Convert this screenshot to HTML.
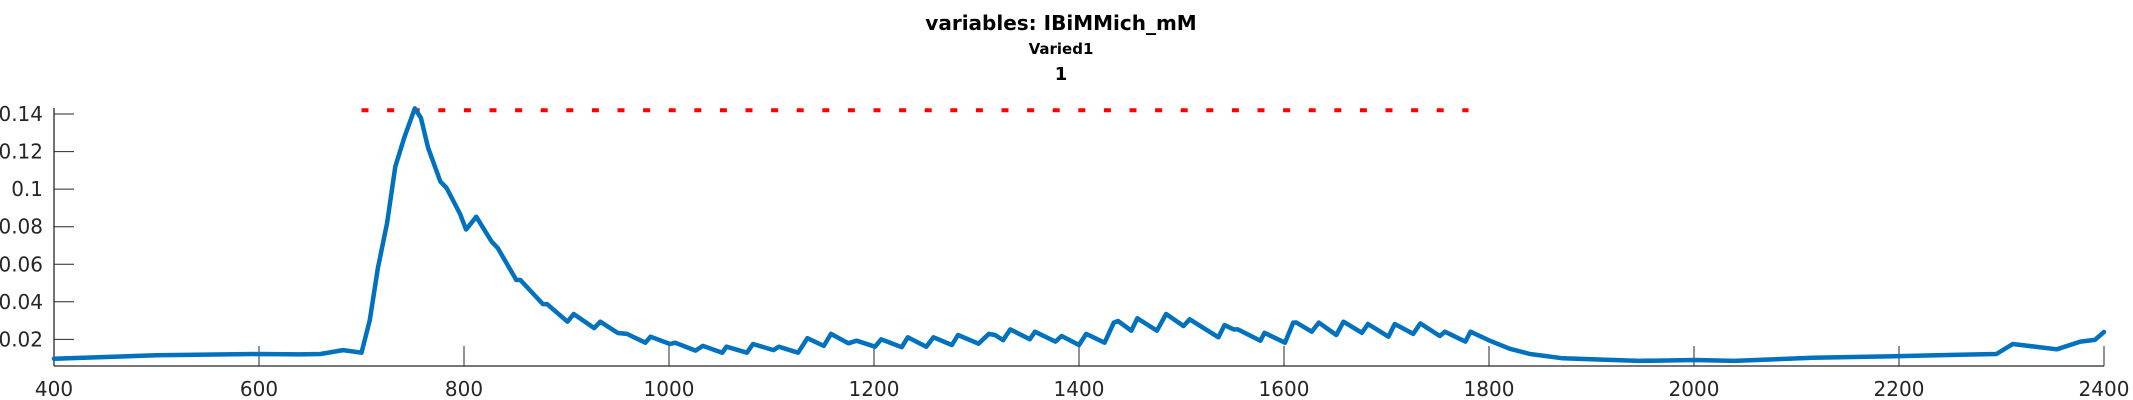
<!DOCTYPE html>
<html><head><meta charset="utf-8"><style>
html,body{margin:0;padding:0;background:#fff;}
svg{display:block;}
</style></head><body>
<svg id="chart" width="2133" height="400" viewBox="0 0 2133 400" xmlns="http://www.w3.org/2000/svg" font-family="'DejaVu Sans','Liberation Sans',sans-serif">
<text x="1061" y="30" text-anchor="middle" font-size="20" font-weight="bold" fill="#000">variables: IBiMMich_mM</text>
<text x="1061" y="54" text-anchor="middle" font-size="15" font-weight="bold" fill="#000">Varied1</text>
<text x="1061" y="80" text-anchor="middle" font-size="18" font-weight="bold" fill="#000">1</text>
<g id="axes"></g>
<g id="marks"></g>
</svg>
<script>
const xTicks = [400,600,800,1000,1200,1400,1600,1800,2000,2200,2400];
const yTicks = [0.02,0.04,0.06,0.08,0.1,0.12,0.14];
const yTickLabels = ["0.02","0.04","0.06","0.08","0.1","0.12","0.14"];
const seriesX = [400,500,600,640,660,682,700,708,716,725,733,742,752,758,765,777,783,796,802,812,818,827,833,851,855,877,881,901,907,927,933,950,959,977,982,1001,1006,1026,1033,1052,1056,1076,1082,1102,1107,1126,1135,1151,1158,1175,1183,1201,1207,1227,1233,1251,1258,1276,1282,1302,1312,1318,1326,1333,1352,1357,1377,1383,1400,1407,1425,1434,1438,1451,1457,1476,1485,1502,1508,1536,1542,1551,1555,1577,1581,1601,1609,1612,1627,1634,1651,1658,1676,1682,1702,1708,1726,1733,1752,1757,1777,1782,1799,1820,1840,1872,1946,2001,2039,2116,2202,2259,2295,2311,2354,2377,2391,2400];
const seriesY = [0.0097,0.0115,0.0122,0.0120,0.0122,0.0143,0.0129,0.030,0.058,0.082,0.112,0.128,0.143,0.138,0.122,0.104,0.1006,0.087,0.0785,0.0853,0.080,0.072,0.0686,0.0516,0.0516,0.0388,0.0388,0.0294,0.0335,0.026,0.0294,0.0234,0.0229,0.0182,0.0214,0.0175,0.0182,0.014,0.0165,0.0129,0.0161,0.0129,0.0175,0.0143,0.0161,0.0129,0.0206,0.0165,0.0229,0.0179,0.0193,0.0161,0.02,0.0158,0.0211,0.0161,0.0211,0.017,0.0223,0.0177,0.0229,0.0223,0.0196,0.0253,0.02,0.0241,0.0188,0.0218,0.017,0.0229,0.0182,0.0289,0.0298,0.0246,0.0312,0.0246,0.0335,0.0271,0.0307,0.0211,0.0276,0.0253,0.0253,0.0193,0.0235,0.0182,0.0289,0.029,0.0241,0.0289,0.0223,0.0294,0.0235,0.0282,0.0214,0.0282,0.0229,0.0285,0.0218,0.0241,0.0188,0.0241,0.0197,0.015,0.0122,0.0099,0.0085,0.009,0.0085,0.0102,0.0111,0.0118,0.0122,0.0175,0.0147,0.0188,0.0197,0.0239];
const refLevel = [0.142];
const refStart = [700];
const refEnd = [1780];

const NS = "http://www.w3.org/2000/svg";
const X0 = 54, X1 = 2104, XMIN = 400, XMAX = 2400;
const YB = 376.9, YS = 1877.5;
function xs(v){ return X0 + (v - XMIN) * (X1 - X0) / (XMAX - XMIN); }
function ys(v){ return YB - v * YS; }
function mk(tag, attrs, parent){ const e = document.createElementNS(NS, tag); for (const k in attrs) e.setAttribute(k, attrs[k]); parent.appendChild(e); return e; }

const axes = document.getElementById('axes');
const marks = document.getElementById('marks');
const AX_Y = 366, AX_TOP = 108;
const xl = mk('line', {x1:X0, y1:AX_Y, x2:X1, y2:AX_Y, stroke:'#262626', 'stroke-width':1.3}, axes);


const yl = mk('line', {x1:X0, y1:AX_Y, x2:X0, y2:AX_TOP, stroke:'#262626', 'stroke-width':1.3}, axes);



xTicks.forEach(function(t){
  const x = xs(t);
  const tk = mk('line', {x1:x, y1:AX_Y, x2:x, y2:AX_Y-20, stroke:'#262626', 'stroke-width':1}, axes);
  
  
  const lb = mk('text', {x:x, y:396, 'text-anchor':'middle', 'font-size':20, fill:'#262626'}, axes);
  lb.textContent = String(t);
  
  
});
yTicks.forEach(function(t, i){
  const y = ys(t);
  const tk = mk('line', {x1:X0, y1:y, x2:X0+20, y2:y, stroke:'#262626', 'stroke-width':1}, axes);
  
  
  const lb = mk('text', {x:43, y:y+7, 'text-anchor':'end', 'font-size':20, fill:'#262626'}, axes);
  lb.textContent = yTickLabels[i];
  
  
});

const ref = mk('line', {x1:xs(refStart[0]), y1:ys(refLevel[0]), x2:xs(refEnd[0]), y2:ys(refLevel[0]), stroke:'#ff0000', 'stroke-width':4, 'stroke-dasharray':'7 18.6'}, marks);



let d = '';
seriesX.forEach(function(v, i){ d += (i ? 'L' : 'M') + xs(v).toFixed(1) + ' ' + ys(seriesY[i]).toFixed(1); });
const line = mk('path', {d:d, fill:'none', stroke:'#0072bd', 'stroke-width':4.5, 'stroke-linejoin':'round', 'stroke-linecap':'round'}, marks);


</script>
</body></html>
